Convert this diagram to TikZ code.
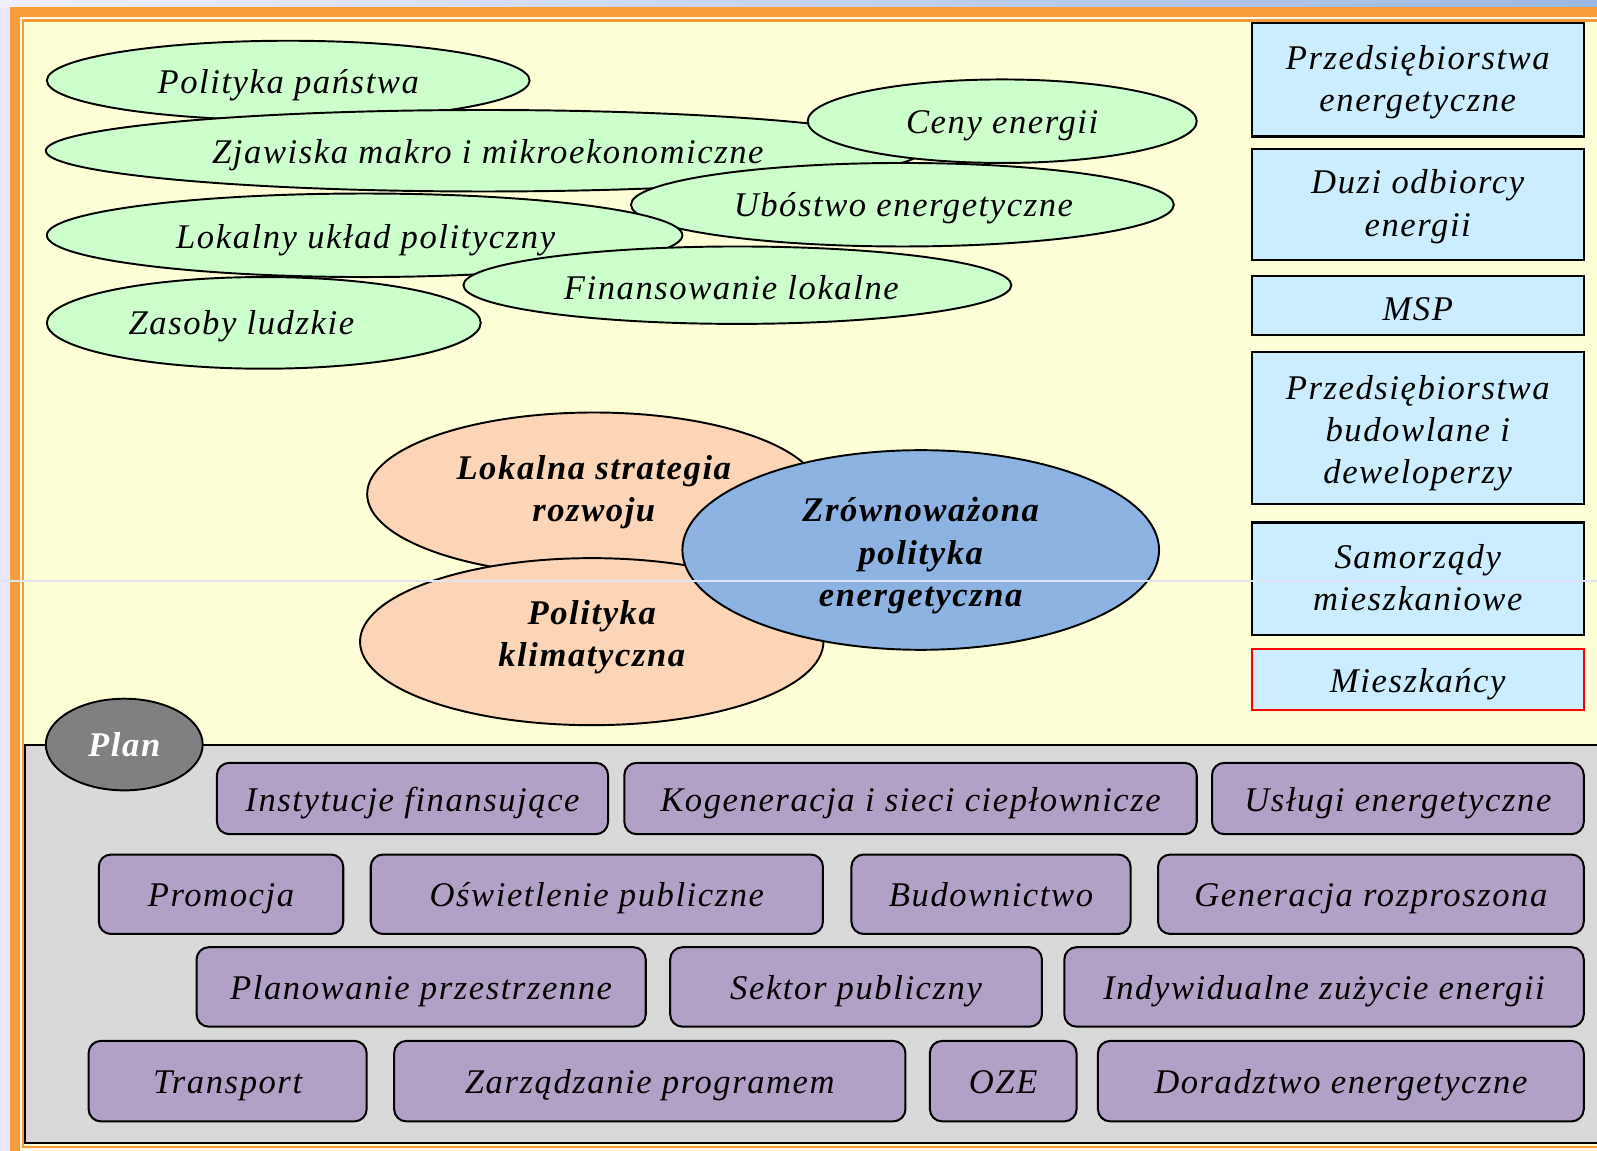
\documentclass[tikz,border=0pt]{standalone}
\usepackage{fontspec}
\setmainfont{Liberation Serif}
\newfontface\fit[LetterSpace=4.5]{Liberation Serif Italic}
\newfontface\fbi[LetterSpace=4.5]{Liberation Serif Bold Italic}
\usetikzlibrary{shapes.geometric}
\definecolor{bgl}{RGB}{232,232,248}
\definecolor{bgb}{RGB}{156,184,226}
\definecolor{orng}{RGB}{249,155,58}
\definecolor{lite}{RGB}{255,246,230}
\definecolor{cream}{RGB}{255,255,215}
\definecolor{panel}{RGB}{217,217,217}
\definecolor{gfill}{RGB}{204,255,204}
\definecolor{pfill}{RGB}{251,213,181}
\definecolor{zfill}{RGB}{141,179,226}
\definecolor{bfill}{RGB}{204,236,255}
\definecolor{vfill}{RGB}{178,161,199}
\definecolor{planc}{RGB}{128,128,128}
\definecolor{seam}{RGB}{222,228,244}
\newcommand\fsz{\fontsize{34}{41.5}\selectfont}
\newcommand\ST{\rule[-3pt]{0pt}{36pt}}
\newcommand\SB{\rule[-12pt]{0pt}{45pt}}
\newcommand\SP{\rule[-9pt]{0pt}{42pt}}
\tikzset{
  tx/.style={font=\fit\fsz, align=center, inner sep=0pt},
  bx/.style={font=\fbi\fsz, align=center, inner sep=0pt},
  gell/.style={ellipse, draw=black, line width=1.9pt, fill=gfill, inner sep=0pt},
  oell/.style={ellipse, draw=black, line width=1.9pt, fill=pfill, inner sep=0pt},
  bbox/.style={rectangle, draw=black, line width=2pt, fill=bfill, minimum width=326pt, inner sep=0pt, font=\fit\fsz, align=center},
  pbox/.style={rectangle, rounded corners=12pt, draw=black, line width=2pt, fill=vfill, inner sep=0pt, font=\fit\fsz, align=center},
}
\begin{document}
\begin{tikzpicture}[x=1pt,y=-1pt]
\useasboundingbox (0,0) rectangle (1568,1130);
\clip (0,0) rectangle (1568,1130);
% background and frame
\fill[bgl] (0,0) rectangle (1568,1130);
\shade[left color=bgl!70!white, right color=bgb] (0,0) rectangle (1568,7.2);
\fill[orng] (9.8,7.2) rectangle (1600,1160);
\fill[lite] (19.6,17) rectangle (1600,1131);
\fill[orng] (21.4,19) rectangle (1600,1127.5);
\fill[cream] (23.6,21.5) rectangle (1600,1125);
\draw[black, line width=2pt, fill=panel] (25,731) rectangle (1600,1122);

% green ellipses
\node[gell, minimum width=474pt, minimum height=78pt] (e1) at (283,79) {};
\node[tx] (t1) at (283,79) {\ST Polityka państwa};
\node[gell, minimum width=860pt, minimum height=80pt] (e2) at (475,148) {};
\node[tx] (t2) at (479,148) {\ST Zjawiska makro i mikroekonomiczne};
\node[gell, minimum width=382pt, minimum height=82pt] (e3) at (984,119) {};
\node[tx] (t3) at (984,118.5) {\ST Ceny energii};
\node[gell, minimum width=533pt, minimum height=82pt] (e4) at (886,201) {};
\node[tx] (t4) at (887,200) {\ST Ubóstwo energetyczne};
\node[gell, minimum width=624pt, minimum height=82pt] (e5) at (358,231) {};
\node[tx] (t5) at (359,231.5) {\ST Lokalny układ polityczny};
\node[gell, minimum width=538pt, minimum height=76pt] (e6) at (724,280) {};
\node[tx] (t6) at (718,279.5) {\ST Finansowanie lokalne};
\node[gell, minimum width=426pt, minimum height=90pt] (e7) at (259,317) {};
\node[tx] (t7) at (237,315.5) {\ST Zasoby ludzkie};

% central ellipses
\node[oell, minimum width=445pt, minimum height=160pt] (ls) at (583,485) {};
\node[bx] (lst) at (583,478.5) {\ST Lokalna strategia\\\ST rozwoju};
\node[oell, minimum width=455pt, minimum height=164pt] (pk) at (581,630) {};
\node[bx] (pkt) at (581,621) {\ST Polityka\\\ST klimatyczna};
\node[ellipse, draw=black, line width=1.9pt, fill=zfill, inner sep=0pt, minimum width=468pt, minimum height=196pt] (zp) at (904,540) {};
\node[bx] (zpt) at (904,541) {\ST Zrównoważona\\\ST polityka\\\ST energetyczna};

% right boxes
\node[bbox, minimum height=111pt] (r1) at (1392,78.5) {\ST Przedsiębiorstwa\\\SB energetyczne};
\node[bbox, minimum height=109pt] (r2) at (1392,200.5) {\ST Duzi odbiorcy\\\SB energii};
\node[bbox, minimum height=58pt] (r3) at (1392,300) {\ST MSP};
\node[bbox, minimum height=149pt] (r4) at (1392,420.5) {\ST Przedsiębiorstwa\\\ST budowlane i\\\ST deweloperzy};
\node[bbox, minimum height=110pt] (r5) at (1392,568) {\ST Samorządy\\\SB mieszkaniowe};
\node[bbox, draw=red, minimum height=60pt] (r6) at (1392,667) {\ST Mieszkańcy};

% plan
\node[ellipse, draw=black, line width=1.9pt, fill=planc, inner sep=0pt, minimum width=154pt, minimum height=90pt] (pl) at (122,731) {};
\node[bx, text=white] (plt) at (122,727.5) {\ST Plan};

% plan boxes
\node[pbox, minimum width=384pt, minimum height=70pt] (a1) at (405,784) {\ST Instytucje finansujące};
\node[pbox, minimum width=562pt, minimum height=70pt] (a2) at (894,784) {\ST Kogeneracja i sieci ciepłownicze};
\node[pbox, minimum width=365pt, minimum height=70pt] (a3) at (1372.5,784) {\ST Usługi energetyczne};
\node[pbox, minimum width=240pt, minimum height=78pt] (b1) at (217,878) {\SP Promocja};
\node[pbox, minimum width=444pt, minimum height=78pt] (b2) at (586,878) {\SP Oświetlenie publiczne};
\node[pbox, minimum width=274pt, minimum height=78pt] (b3) at (973,878) {\SP Budownictwo};
\node[pbox, minimum width=418pt, minimum height=78pt] (b4) at (1346,878) {\SP Generacja rozproszona};
\node[pbox, minimum width=441pt, minimum height=78pt] (c1) at (413.5,969) {\SP Planowanie przestrzenne};
\node[pbox, minimum width=365pt, minimum height=78pt] (c2) at (840.5,969) {\SP Sektor publiczny};
\node[pbox, minimum width=510pt, minimum height=78pt] (c3) at (1300,969) {\SP Indywidualne zużycie energii};
\node[pbox, minimum width=273pt, minimum height=79pt] (d1) at (223.5,1061.5) {\SP Transport};
\node[pbox, minimum width=502pt, minimum height=79pt] (d2) at (638,1061.5) {\SP Zarządzanie programem};
\node[pbox, minimum width=144pt, minimum height=79pt] (d3) at (985,1061.5) {\SP OZE};
\node[pbox, minimum width=477pt, minimum height=79pt] (d4) at (1316.5,1061.5) {\SP Doradztwo energetyczne};

% faint seam line across the slide
\draw[seam, line width=1.3pt] (0,570.5) -- (1568,570.5);
\end{tikzpicture}
\end{document}
